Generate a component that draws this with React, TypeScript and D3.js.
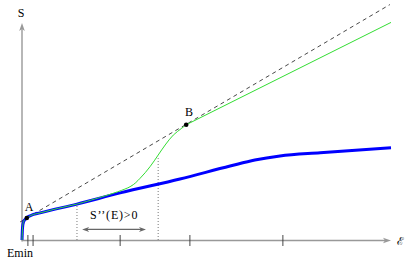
import React from 'react'
import * as d3 from 'd3'

const width = 415
const height = 263

// entropy S(E), thick blue curve
const entropyE = [0, 0.14, 0.4, 1.1, 2.4, 4.9, 14.9, 26.6, 42.8, 56.4, 63.1, 69.9, 80.8, 100]
const entropyS = [0, 5.6, 8.4, 10, 11.4, 12.6, 16.7, 21.9, 28.4, 34.4, 37.2, 39.1, 40.6, 42.9]

// green curve leaves the blue one at E=26.6, bends up to B, then goes straight
const greenE = [29.3, 32.0, 34.7, 36.9, 38.8, 41.0, 43.3, 44.5]
const greenS = [24.8, 28.7, 34.1, 39.5, 44.2, 48.8, 52.0, 53.6]
const greenTailE = [44.5, 100]
const greenTailS = [53.6, 101.2]

// dashed tangent through A and B
const tangentE = [-0.5, 99.7]
const tangentS = [8.4, 109.5]

const points = [
	{ name: 'A', e: 1.3, s: 10.2 },
	{ name: 'B', e: 44.5, s: 53.6 }
]

const tickE = [1.6, 3.0, 26.6, 45.5, 70.7]
const guideE = [14.9, 36.9]
const guideS = [16.3, 38.1]
const convexRange = [16.3, 33.6]
const convexLabel = 'S’’(E)>0'

const font = '"Liberation Serif", "DejaVu Serif", serif'

type Pt = [number, number]

const App = () => {
	const x = d3.scaleLinear().domain([0, 100]).range([22, 391])
	const y = d3.scaleLinear().domain([0, 100]).range([240, 25])

	const smooth = d3
		.line<Pt>()
		.x(d => x(d[0]))
		.y(d => y(d[1]))
		.curve(d3.curveMonotoneX)
	const soft = d3
		.line<Pt>()
		.x(d => x(d[0]))
		.y(d => y(d[1]))
		.curve(d3.curveCatmullRom.alpha(0.5))
	const straight = d3
		.line<Pt>()
		.x(d => x(d[0]))
		.y(d => y(d[1]))

	const blue: Pt[] = entropyE.map((e, i) => [e, entropyS[i]])
	const split = entropyE.indexOf(26.6)
	const greenHead: Pt[] = blue.slice(0, split)
	const greenBend: Pt[] = blue
		.slice(split - 1, split)
		.concat(greenE.map((e, i) => [e, greenS[i]] as Pt))
	const greenTail: Pt[] = greenTailE.map((e, i) => [e, greenTailS[i]])
	const tangent: Pt[] = tangentE.map((e, i) => [e, tangentS[i]])

	const x0 = x(0)
	const y0 = y(0)
	const xEnd = x(100)
	const yTop = 23
	const grey = '#999'

	const ay = y(4.9)
	const ax1 = x(convexRange[0])
	const ax2 = x(convexRange[1])

	return (
		<svg
			width={width}
			height={height}
			style={{ position: 'absolute', left: 0, top: 0, background: '#fff' }}
		>
			{/* axes */}
			<line x1={x0} y1={y0 + 1.5} x2={x0} y2={yTop + 4} stroke={grey} strokeWidth={1.4} />
			<path
				d={`M${x0},${yTop} L${x0 - 2.8},${yTop + 8} L${x0},${yTop + 6} L${x0 + 2.8},${yTop + 8} Z`}
				fill={grey}
			/>
			<line x1={x0} y1={y0 + 0.5} x2={xEnd - 4} y2={y0 + 0.5} stroke={grey} strokeWidth={1.4} />
			<path
				d={`M${xEnd},${y0 + 0.5} L${xEnd - 8},${y0 - 2.3} L${xEnd - 6},${y0 + 0.5} L${xEnd - 8},${y0 + 3.3} Z`}
				fill={grey}
			/>
			{tickE.map((t, i) => (
				<line
					key={i}
					x1={x(t)}
					x2={x(t)}
					y1={y0 - 5}
					y2={y0 + 6}
					stroke="#333"
					strokeWidth={0.9}
				/>
			))}

			{/* dotted guides */}
			{guideE.map((g, i) => (
				<line
					key={i}
					x1={x(g)}
					x2={x(g)}
					y1={y0}
					y2={y(guideS[i])}
					stroke="#555"
					strokeWidth={0.8}
					strokeDasharray="1,2"
				/>
			))}

			{/* convex region arrow */}
			<line x1={ax1 + 4} x2={ax2 - 4} y1={ay} y2={ay} stroke="#666" strokeWidth={1.2} />
			<path
				d={`M${ax1},${ay} L${ax1 + 7},${ay - 2.5} L${ax1 + 5},${ay} L${ax1 + 7},${ay + 2.5} Z`}
				fill="#666"
			/>
			<path
				d={`M${ax2},${ay} L${ax2 - 7},${ay - 2.5} L${ax2 - 5},${ay} L${ax2 - 7},${ay + 2.5} Z`}
				fill="#666"
			/>
			<text
				x={(ax1 + ax2) / 2}
				y={219}
				textAnchor="middle"
				fontFamily={font}
				fontSize={12}
				letterSpacing={0.8}
			>
				{convexLabel}
			</text>

			{/* tangent */}
			<path
				d={straight(tangent) || ''}
				fill="none"
				stroke="#333"
				strokeWidth={0.9}
				strokeDasharray="4,3.5"
			/>

			{/* curves */}
			<path
				d={smooth(blue) || ''}
				fill="none"
				stroke="#0000ff"
				strokeWidth={3}
				strokeLinejoin="round"
			/>
			<path d={smooth(greenHead) || ''} fill="none" stroke="#33dd33" strokeWidth={1} />
			<path d={soft(greenBend) || ''} fill="none" stroke="#33dd33" strokeWidth={1} />
			<path d={straight(greenTail) || ''} fill="none" stroke="#33dd33" strokeWidth={1} />

			{points.map(p => (
				<circle key={p.name} cx={x(p.e)} cy={y(p.s)} r={2.3} fill="#000" />
			))}
			<text x={29} y={211} textAnchor="middle" fontFamily={font} fontSize={12}>
				A
			</text>
			<text x={189} y={116} textAnchor="middle" fontFamily={font} fontSize={12}>
				B
			</text>

			{/* axis labels */}
			<text x={21} y={17} textAnchor="middle" fontFamily={font} fontSize={12}>
				S
			</text>
			<text x={20} y={257} textAnchor="middle" fontFamily={font} fontSize={12}>
				Emin
			</text>
			<text x={397} y={245} fontFamily='"DejaVu Serif", serif' fontSize={11}>
				ℰ
			</text>
		</svg>
	)
}

export default App
